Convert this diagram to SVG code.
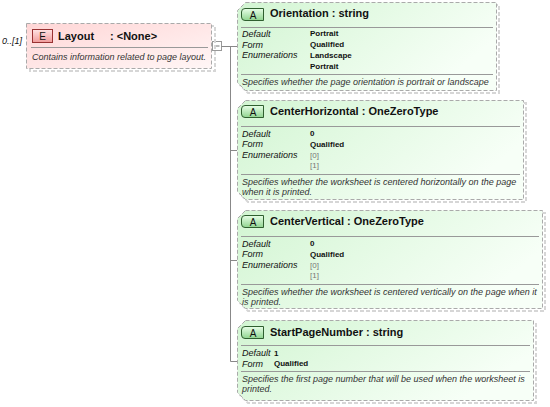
<svg xmlns="http://www.w3.org/2000/svg" width="550" height="407" viewBox="0 0 550 407">
<defs>
<linearGradient id="gE" x1="0" y1="0" x2="1" y2="1">
<stop offset="0" stop-color="#ffd6d6"/><stop offset="1" stop-color="#fff6f6"/>
</linearGradient>
<linearGradient id="gA" x1="0" y1="0" x2="1" y2="0.4">
<stop offset="0" stop-color="#d2f5d2"/><stop offset="1" stop-color="#f7fff7"/>
</linearGradient>
<linearGradient id="gBA" x1="0" y1="0" x2="0" y2="1">
<stop offset="0" stop-color="#e8ffe8"/><stop offset="1" stop-color="#8fd48f"/>
</linearGradient>
<linearGradient id="gBE" x1="0" y1="0" x2="0" y2="1">
<stop offset="0" stop-color="#ffe4e4"/><stop offset="1" stop-color="#f09a9a"/>
</linearGradient>
</defs>
<style>
text{font-family:"Liberation Sans",Arial,sans-serif;fill:#111}
.ttl{font-size:11px;font-weight:bold}
.lbl{font-size:9px;font-style:italic}
.val{font-size:8px;font-weight:bold}
.enm{font-size:8px;fill:#777}
.dsc{font-size:9px;font-style:italic;fill:#333}
.bdg{font-size:10px;text-anchor:middle}
.box{fill:url(#gA);stroke:#aaaaaa;stroke-dasharray:4,2}
.ebox{fill:url(#gE);stroke:#aaaaaa;stroke-dasharray:4,2}
.shd{fill:none;stroke:#d6d6d6;stroke-width:2;stroke-dasharray:4,2}
.sep{stroke:#999999;stroke-width:1}
.ba{fill:url(#gBA);stroke:#2f5f2f;stroke-width:1}
.be{fill:url(#gBE);stroke:#993333;stroke-width:1}
.con{stroke:#888888;stroke-width:1;fill:none}
</style>

<g id="connectors">
<rect x="212.5" y="41.5" width="9" height="9" fill="#ffffff" stroke="#999999"/>
<line x1="214.5" y1="46" x2="219.5" y2="46" stroke="#777777"/>
<path class="con" d="M221.5,46.5 H237 M230.5,46.5 V361.5 M230.5,150.5 H237 M230.5,260.5 H237 M230.5,361.5 H237"/>
</g>

<g id="Layout">
<text class="lbl" x="2" y="44">0..[1]</text>
<rect class="shd" x="30" y="26" width="185" height="45"/>
<rect class="ebox" x="26.5" y="23.5" width="185" height="45"/>
<rect class="be" x="32.5" y="29.5" width="20" height="13"/>
<text class="bdg" x="42.5" y="40">E</text>
<text class="ttl" x="58" y="40">Layout</text>
<text class="ttl" x="110" y="40">: &lt;None&gt;</text>
<line class="sep" x1="31" y1="47.5" x2="208" y2="47.5"/>
<text class="dsc" x="32" y="60">Contains information related to page layout.</text>
</g>

<g id="Orientation">
<path class="shd" d="M248,5 H499 V93 H248 L240,85 V13 Z"/>
<path class="box" d="M245.5,2.5 H496.5 V90.5 H245.5 L237.5,82.5 V10.5 Z"/>
<path class="ba" d="M245,8.5 H263.5 V20.5 H245 Q241.5,20.5 241.5,17 V12 Q241.5,8.5 245,8.5 Z"/>
<text class="bdg" x="253" y="18.5">A</text>
<text class="ttl" x="270" y="17">Orientation : string</text>
<line class="sep" x1="241" y1="27.5" x2="493" y2="27.5"/>
<text class="lbl" x="242" y="36.5">Default</text>
<text class="lbl" x="242" y="47.5">Form</text>
<text class="lbl" x="242" y="58">Enumerations</text>
<text class="val" x="310" y="36">Portrait</text>
<text class="val" x="310" y="47">Qualified</text>
<text class="val" x="310" y="57.5">Landscape</text>
<text class="val" x="310" y="68.5">Portrait</text>
<line class="sep" x1="241" y1="74.5" x2="493" y2="74.5"/>
<text class="dsc" x="242" y="85">Specifies whether the page orientation is portrait or landscape</text>
</g>

<g id="CenterHorizontal">
<path class="shd" d="M248,103 H526 V202 H248 L240,194 V111 Z"/>
<path class="box" d="M245.5,100.5 H523.5 V199.5 H245.5 L237.5,191.5 V108.5 Z"/>
<path class="ba" d="M245,105.5 H263.5 V117.5 H245 Q241.5,117.5 241.5,114 V109 Q241.5,105.5 245,105.5 Z"/>
<text class="bdg" x="253" y="115.5">A</text>
<text class="ttl" x="270" y="115">CenterHorizontal : OneZeroType</text>
<line class="sep" x1="241" y1="126.5" x2="520" y2="126.5"/>
<text class="lbl" x="242" y="136.5">Default</text>
<text class="lbl" x="242" y="147">Form</text>
<text class="lbl" x="242" y="158">Enumerations</text>
<text class="val" x="310" y="136">0</text>
<text class="val" x="310" y="146.5">Qualified</text>
<text class="enm" x="310" y="157.5">[0]</text>
<text class="enm" x="310" y="168">[1]</text>
<line class="sep" x1="241" y1="174.5" x2="520" y2="174.5"/>
<text class="dsc" x="242" y="185">Specifies whether the worksheet is centered horizontally on the page</text>
<text class="dsc" x="242" y="195">when it is printed.</text>
</g>

<g id="CenterVertical">
<path class="shd" d="M248,213 H545 V311 H248 L240,303 V221 Z"/>
<path class="box" d="M245.5,210.5 H542.5 V308.5 H245.5 L237.5,300.5 V218.5 Z"/>
<path class="ba" d="M245,215.5 H263.5 V227.5 H245 Q241.5,227.5 241.5,224 V219 Q241.5,215.5 245,215.5 Z"/>
<text class="bdg" x="253" y="225.5">A</text>
<text class="ttl" x="270" y="225">CenterVertical : OneZeroType</text>
<line class="sep" x1="241" y1="236.5" x2="539" y2="236.5"/>
<text class="lbl" x="242" y="246.5">Default</text>
<text class="lbl" x="242" y="257">Form</text>
<text class="lbl" x="242" y="268">Enumerations</text>
<text class="val" x="310" y="246">0</text>
<text class="val" x="310" y="256.5">Qualified</text>
<text class="enm" x="310" y="267.5">[0]</text>
<text class="enm" x="310" y="278">[1]</text>
<line class="sep" x1="241" y1="284.5" x2="539" y2="284.5"/>
<text class="dsc" x="242" y="295">Specifies whether the worksheet is centered vertically on the page when it</text>
<text class="dsc" x="242" y="305">is printed.</text>
</g>

<g id="StartPageNumber">
<path class="shd" d="M248,323 H536 V403 H248 L240,395 V331 Z"/>
<path class="box" d="M245.5,320.5 H533.5 V400.5 H245.5 L237.5,392.5 V328.5 Z"/>
<path class="ba" d="M245,326.5 H263.5 V338.5 H245 Q241.5,338.5 241.5,335 V330 Q241.5,326.5 245,326.5 Z"/>
<text class="bdg" x="253" y="336.5">A</text>
<text class="ttl" x="270" y="336">StartPageNumber : string</text>
<line class="sep" x1="241" y1="345.5" x2="530" y2="345.5"/>
<text class="lbl" x="242" y="356">Default</text>
<text class="lbl" x="242" y="366.5">Form</text>
<text class="val" x="274" y="355.5">1</text>
<text class="val" x="274" y="366">Qualified</text>
<line class="sep" x1="241" y1="371.5" x2="530" y2="371.5"/>
<text class="dsc" x="242" y="382">Specifies the first page number that will be used when the worksheet is</text>
<text class="dsc" x="242" y="392">printed.</text>
</g>
</svg>
